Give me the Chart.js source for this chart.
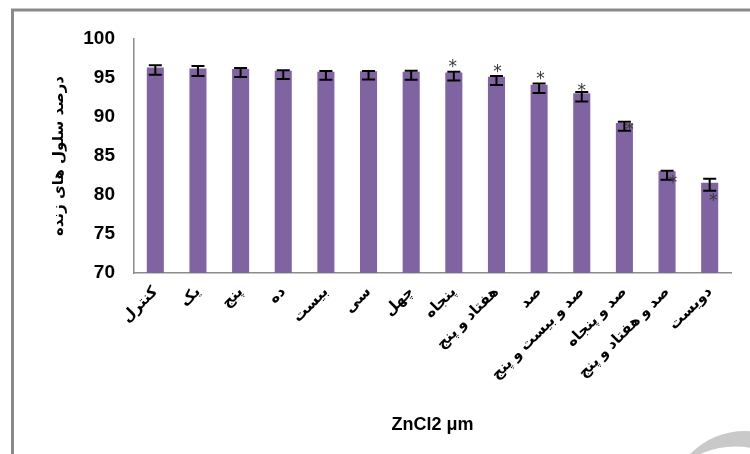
<!DOCTYPE html>
<html>
<head>
<meta charset="utf-8">
<script src="https://cdn.jsdelivr.net/npm/chart.js@4.4.0/dist/chart.umd.min.js"></script>
<style>
  html, body { margin: 0; padding: 0; background: #ffffff; }
  #wrap { width: 750px; height: 454px; position: relative; }
</style>
</head>
<body>
<div id="wrap"><canvas id="c" width="750" height="454"></canvas></div>
<script>
// ZnCl2 doses (µM), written out in Persian
const doses = ['کنترل', 'یک', 'پنج', 'ده', 'بیست', 'سی', 'چهل', 'پنجاه', 'هفتاد و پنج', 'صد', 'صد و بیست و پنج', 'صد و پنجاه', 'صد و هفتاد و پنج', 'دویست'];
// percentage of viable cells
const viability = [96.36, 96.23, 96.15, 95.94, 95.81, 95.85, 95.81, 95.72, 95.17, 94.14, 93.03, 89.23, 83.03, 81.58];
// error bar extents above / below each mean
const errPlus  = [0.26, 0.31, 0.13, 0.05, 0.09, 0.05, 0.13, 0.09, 0.09, 0.17, 0.18, 0.17, 0.09, 0.51];
const errMinus = [0.94, 0.97, 1.02, 1.07, 1.03, 1.03, 1.03, 1.03, 1.07, 1.06, 1.03, 0.99, 1.07, 1.03];
// level of the significance asterisk (null = not significant)
const starAt = [null, null, null, null, null, null, null, 96.91, 96.28, 95.29, 93.72, 88.72, 81.96, 79.69];
// y axis range and tick step
const yMin = 70, yMax = 100, yStep = 5;

const yTitle = 'درصد سلول های زنده';
const xTitle = 'ZnCl2 μm';

// sideways nudge of each asterisk relative to its bar centre (px)
const starNudge = [0, 0, 0, 0, 0, 0, 0, -1, 1, 1.5, 0, 5, 6, 3.5];

const framePlugin = {
  id: 'frame',
  beforeDraw(chart) {
    const ctx = chart.ctx;
    ctx.save();
    ctx.fillStyle = '#ffffff';
    ctx.fillRect(0, 0, chart.width, chart.height);
    ctx.strokeStyle = '#8a8a8a';
    ctx.lineWidth = 3;
    ctx.beginPath();
    ctx.moveTo(12.5, chart.height);
    ctx.lineTo(12.5, 10);
    ctx.lineTo(chart.width, 10);
    ctx.stroke();
    ctx.restore();
  },
  afterDraw(chart) {
    const ctx = chart.ctx;
    const area = chart.chartArea;
    ctx.save();
    // x axis title, centred under the plot
    ctx.fillStyle = '#000000';
    ctx.font = 'bold 18px "Liberation Sans", Arial, sans-serif';
    ctx.textAlign = 'center';
    ctx.textBaseline = 'middle';
    ctx.fillText(xTitle, (area.left + area.right) / 2, 425);
    // grey crescent in the lower right corner
    ctx.fillStyle = '#c9c9c9';
    ctx.beginPath();
    ctx.arc(745, 508, 77, 0, Math.PI * 2);
    ctx.arc(735, 528, 81.6, 0, Math.PI * 2, true);
    ctx.fill('evenodd');
    ctx.restore();
  }
};

const errorBarPlugin = {
  id: 'errorBars',
  afterDatasetsDraw(chart) {
    const ctx = chart.ctx;
    const y = chart.scales.y;
    const meta = chart.getDatasetMeta(0);
    ctx.save();
    ctx.strokeStyle = '#000000';
    ctx.lineWidth = 2;
    meta.data.forEach((bar, i) => {
      const v = viability[i];
      const top = y.getPixelForValue(v + errPlus[i]);
      const bot = y.getPixelForValue(v - errMinus[i]);
      const half = 6.5;
      ctx.beginPath();
      ctx.moveTo(bar.x, top);
      ctx.lineTo(bar.x, bot);
      ctx.moveTo(bar.x - half, top);
      ctx.lineTo(bar.x + half, top);
      ctx.moveTo(bar.x - half, bot);
      ctx.lineTo(bar.x + half, bot);
      ctx.stroke();
    });
    // significance asterisks
    ctx.fillStyle = '#383838';
    ctx.font = '17px "DejaVu Sans", sans-serif';
    ctx.textAlign = 'center';
    ctx.textBaseline = 'alphabetic';
    const m = ctx.measureText('*');
    const shift = (m.actualBoundingBoxAscent - m.actualBoundingBoxDescent) / 2;
    meta.data.forEach((bar, i) => {
      if (starAt[i] === null) return;
      const yc = y.getPixelForValue(starAt[i]);
      ctx.fillText('*', bar.x + starNudge[i], yc + shift);
    });
    ctx.restore();
  }
};

new Chart(document.getElementById('c'), {
  type: 'bar',
  data: {
    labels: doses,
    datasets: [{
      data: viability,
      backgroundColor: '#8064A2',
      borderWidth: 0,
      barPercentage: 0.4,
      categoryPercentage: 1.0
    }]
  },
  options: {
    responsive: false,
    animation: false,
    devicePixelRatio: 1,
    layout: { padding: { left: 0, right: 19, top: 39, bottom: 0 } },
    plugins: {
      legend: { display: false },
      tooltip: { enabled: false },
      title: { display: false }
    },
    scales: {
      x: {
        grid: { display: false, drawTicks: false },
        border: { display: true, color: '#8c8c8c', width: 1.5 },
        ticks: {
          color: '#000000',
          font: { family: '"Liberation Sans", "DejaVu Sans", sans-serif', size: 15, weight: 'bold' },
          minRotation: 45,
          maxRotation: 45,
          autoSkip: false,
          padding: 10
        },
        afterFit(scale) { scale.height = 181; }
      },
      y: {
        min: yMin,
        max: yMax,
        grid: { display: false, drawTicks: false },
        border: { display: true, color: '#8c8c8c', width: 1.5 },
        ticks: {
          stepSize: yStep,
          color: '#000000',
          font: { family: '"Liberation Sans", Arial, sans-serif', size: 19, weight: 'bold' },
          padding: 19
        },
        title: {
          display: true,
          text: yTitle,
          color: '#000000',
          font: { family: '"DejaVu Sans", sans-serif', size: 15, weight: 'bold' },
          padding: { top: 50, bottom: 0 }
        },
        afterFit(scale) { scale.width = 134; }
      }
    }
  },
  plugins: [framePlugin, errorBarPlugin]
});
</script>
</body>
</html>
